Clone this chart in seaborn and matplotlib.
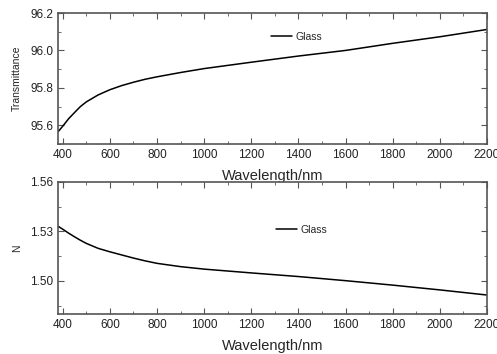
import numpy as np
import pandas as pd
import matplotlib
matplotlib.use("Agg")
import matplotlib.pyplot as plt
import seaborn as sns
from matplotlib.ticker import MultipleLocator, FormatStrFormatter

# values
wavelength = [380, 400, 425, 450, 475, 500, 550, 600, 650, 700, 750, 800, 900, 1000,
              1200, 1400, 1600, 1800, 2000, 2200]
transmittance = [95.565, 95.595, 95.635, 95.668, 95.700, 95.725, 95.762, 95.790, 95.812,
                 95.830, 95.846, 95.859, 95.882, 95.903, 95.937, 95.970, 96.000, 96.038,
                 96.073, 96.112]
refr_index = [1.5332, 1.5314, 1.5290, 1.5268, 1.5247, 1.5228, 1.5198, 1.5177, 1.5158,
              1.5139, 1.5122, 1.5107, 1.5087, 1.5072, 1.5049, 1.5027, 1.5002, 1.4975,
              1.4946, 1.4915]

df = pd.DataFrame({"Wavelength": wavelength, "T": transmittance, "N": refr_index})

sns.set_style("ticks")
plt.rcParams['font.family'] = ['Liberation Sans', 'DejaVu Sans']

fig = plt.figure(figsize=(4.97, 3.54), dpi=100)
ax1 = fig.add_axes([58/497, 1 - 144/354, 429/497, 131/354])
ax2 = fig.add_axes([58/497, 1 - 314/354, 429/497, 132/354])

frame = "#555555"
for ax, col, ylim, major, minor, lab, leg in [
        (ax1, "T", (95.5, 96.2), 0.2, 0.1, "Transmittance", (0.475, 0.82)),
        (ax2, "N", (1.48, 1.56), 0.03, 0.015, "N", (0.487, 0.64))]:
    sns.lineplot(data=df, x="Wavelength", y=col, ax=ax, color="black", lw=1.1, label="Glass")
    ax.set_xlim(380, 2200)
    ax.set_ylim(*ylim)
    ax.xaxis.set_major_locator(MultipleLocator(200))
    ax.xaxis.set_minor_locator(MultipleLocator(100))
    ax.yaxis.set_major_locator(MultipleLocator(major))
    ax.yaxis.set_minor_locator(MultipleLocator(minor))
    ax.tick_params(which="both", direction="in", top=True, right=True, colors=frame,
                   labelcolor="#222222", labelsize=8.5)
    ax.tick_params(which="major", length=4)
    ax.tick_params(which="minor", length=2)
    for s in ax.spines.values():
        s.set_color(frame)
        s.set_linewidth(1.2)
    ax.set_xlabel("Wavelength/nm", fontsize=10.5, labelpad=6)
    ax.set_ylabel(lab, fontsize=7.5, labelpad=6)
    ax.legend(loc="center left", bbox_to_anchor=leg, frameon=False, fontsize=7.5,
              handlelength=2.0, handletextpad=0.3)

ax1.yaxis.set_major_formatter(FormatStrFormatter("%.1f"))
ax2.yaxis.set_major_formatter(FormatStrFormatter("%.2f"))

fig.savefig("out.png", dpi=100)
